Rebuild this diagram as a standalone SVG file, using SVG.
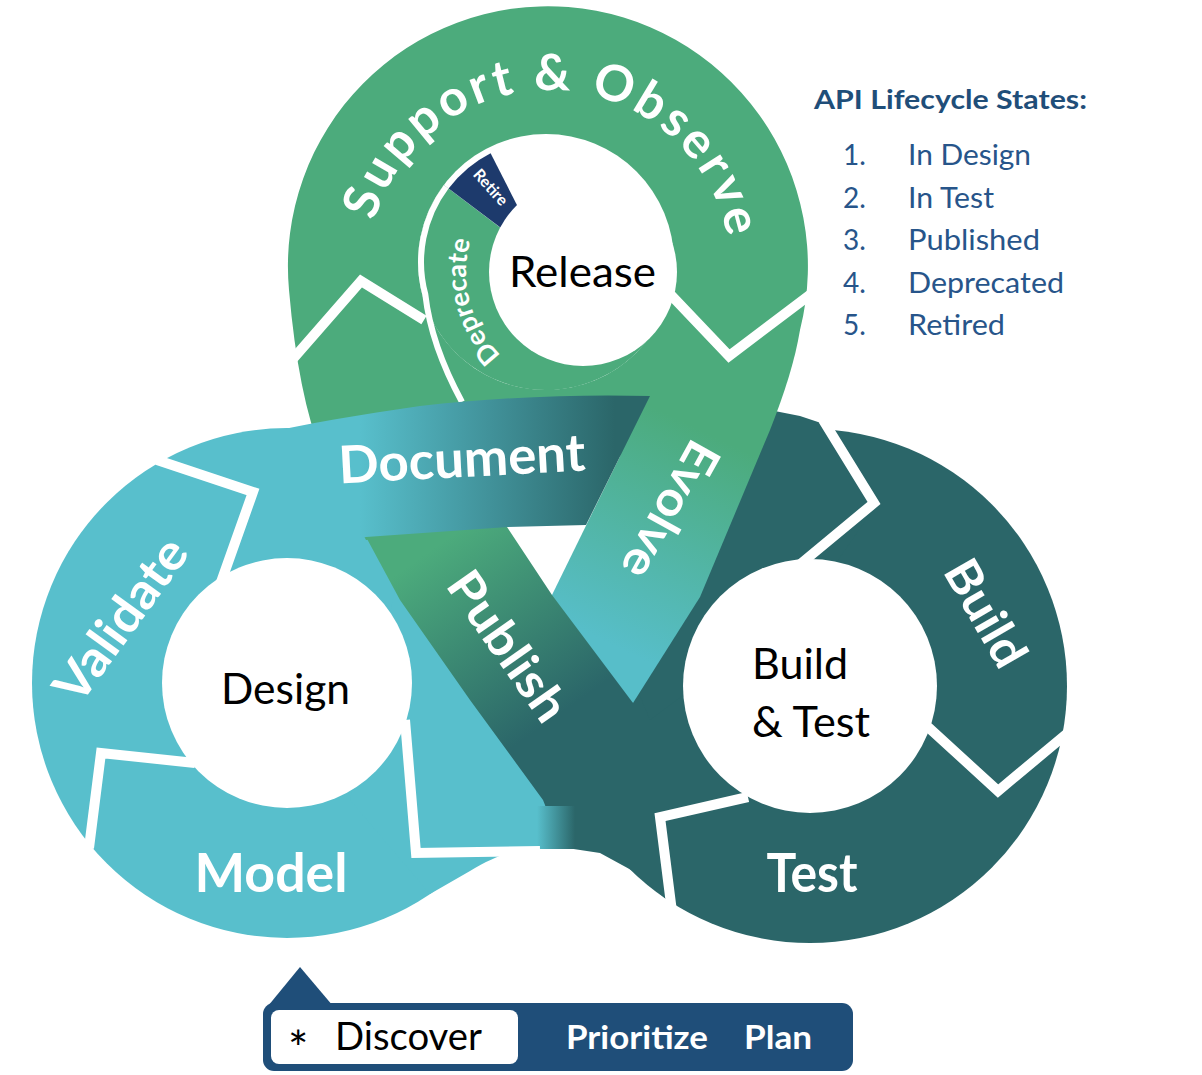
<svg xmlns="http://www.w3.org/2000/svg" width="1202" height="1075" viewBox="0 0 1202 1075">
<defs>
  <linearGradient id="gDoc" gradientUnits="userSpaceOnUse" x1="360" y1="0" x2="615" y2="0">
    <stop offset="0" stop-color="#58BFCC"/><stop offset="1" stop-color="#2B6669"/>
  </linearGradient>
  <linearGradient id="gPub" gradientUnits="userSpaceOnUse" x1="410" y1="565" x2="530" y2="735">
    <stop offset="0" stop-color="#4CAB7C"/><stop offset="1" stop-color="#2B6669"/>
  </linearGradient>
  <linearGradient id="gEvo" gradientUnits="userSpaceOnUse" x1="722" y1="440" x2="622" y2="650">
    <stop offset="0" stop-color="#4CAB7C"/><stop offset="1" stop-color="#57BEC9"/>
  </linearGradient>
  <linearGradient id="gFade" gradientUnits="userSpaceOnUse" x1="537" y1="0" x2="575" y2="0">
    <stop offset="0" stop-color="#58BFCC"/><stop offset="1" stop-color="#2B6669"/>
  </linearGradient>
  <path id="arcSO" d="M 367,272 A 182 182 0 0 1 731,272"/>
  <path id="arcDep" d="M 524.5,373.3 A 117 117 0 0 1 493.4,196.8"/>
</defs>
<style>
  .sep{fill:none;stroke:#fff;stroke-width:10;stroke-linejoin:miter;stroke-linecap:butt}
  .lbl{font-family:Lato,'Open Sans',sans-serif;font-weight:700;fill:#fff}
  .blk{font-family:Lato,'Open Sans',sans-serif;font-weight:400;fill:#000}
  .leg{font-family:Lato,'Open Sans',sans-serif;fill:#1F4E79}
  .item{font-family:Lato,'Open Sans',sans-serif;fill:#27558A;font-size:28px}
  .hole{fill:#fff}
</style>
<rect width="1202" height="1075" fill="#fff"/>

<!-- Build & Test ring base -->
<g id="ring-build">
  <circle cx="810" cy="686" r="257" fill="#2B6669"/>
  <path d="M 650,397 L 700,399 L 760,408 L 800,416 L 830,426 L 880,500 L 810,600 L 650,720 L 600,600 Z" fill="#2B6669"/>
</g>

<!-- Design ring base -->
<g id="ring-design">
  <circle cx="287" cy="683" r="255" fill="#58BFCC"/>
  <path d="M 395,590 L 470,700 L 545,800 L 560,849 L 533,848 C 515,849 495,856 470,871 L 430,894 L 350,800 Z" fill="#58BFCC"/>
</g>

<!-- Release ring -->
<g id="ring-release">
  <path d="M 366,540 L 322,455 Q 298,395 289,290 A 260 260 0 1 1 800,330 L 700,400 L 600,470 L 510,520 Z" fill="#4CAB7C"/>
  <circle cx="546" cy="262" r="128" class="hole"/>
  <path d="M 546,262 L 672.8,244.2 A 128 128 0 1 1 443.8,185 Z" fill="#4CAB7C"/>
  <path d="M 546,262 L 448.6,188.6 A 122 122 0 0 1 490.6,153.3 Z" fill="#1D3A6C"/>
  <path d="M 446.2,186.8 A 125 125 0 0 0 425.3,294.4 Q 431,345 462,402" fill="none" stroke="#fff" stroke-width="6"/>
</g>

<!-- connecting bands -->
<g id="connectors">
  <path id="band-evolve" d="M 682,330 L 800,330 C 795,360 785,392 770,430 L 700,597 L 633,703 L 525,650 Z" fill="url(#gEvo)"/>
  <path id="band-publish" d="M 355,512 L 515,512 L 507,527 L 552,595 L 633,703 L 690,775 L 700,850 L 667,900 L 633,871 L 600,853 L 567,848 L 555,830 L 543,800 L 470,700 L 400,600 L 366,537 Z" fill="url(#gPub)"/>
  <rect x="537" y="806" width="38" height="43" fill="url(#gFade)"/>
  <path id="band-document" d="M 160,461 C 220,440 320,420 420,406 C 500,397 580,394 650,396 L 586,525 L 508,527 L 366,537 L 330,545 L 253,492 Z" fill="url(#gDoc)"/>
</g>

<!-- segment separators -->
<g id="separators">
  <polyline class="sep" points="157,460 253,492 220,585"/>
  <polyline class="sep" points="89,848 101,753 195,763"/>
  <polyline class="sep" points="405,720 416,853 540,851"/>
  <polyline class="sep" points="823,420 874,503 798,566"/>
  <polyline class="sep" points="1070,731 998,791 928,727"/>
  <polyline class="sep" points="748,797 660,817 672,912"/>
  <polyline class="sep" points="292,360 361,281 424,320"/>
  <polyline class="sep" points="670,294 729,356 815,291"/>
</g>

<!-- centre discs -->
<g id="centres">
  <circle cx="287" cy="683" r="125" fill="#fff"/>
  <circle cx="810" cy="686" r="127" fill="#fff"/>
  <circle cx="583" cy="272" r="94" fill="#fff"/>
</g>

<!-- labels -->
<g id="labels">
  <text class="lbl" font-size="50"><textPath href="#arcSO" startOffset="294" text-anchor="middle" textLength="485" lengthAdjust="spacing">Support &amp; Observe</textPath></text>
  <text class="lbl" font-size="27"><textPath href="#arcDep" startOffset="92" text-anchor="middle">Deprecate</textPath></text>
  <text class="lbl" font-size="16" text-anchor="middle" y="6" transform="translate(491,187) rotate(48)">Retire</text>
  <text class="blk" font-size="42" x="509" y="287" textLength="147" lengthAdjust="spacingAndGlyphs">Release</text>
  <text class="blk" font-size="42" x="221" y="704" textLength="129" lengthAdjust="spacingAndGlyphs">Design</text>
  <text class="blk" font-size="42" x="752" y="679" textLength="96" lengthAdjust="spacingAndGlyphs">Build</text>
  <text class="blk" font-size="42" x="752" y="737" textLength="118" lengthAdjust="spacingAndGlyphs">&amp; Test</text>

  <text class="lbl" font-size="52" text-anchor="middle" x="462" y="477" textLength="247" lengthAdjust="spacingAndGlyphs" transform="rotate(-3 462 462)">Document</text>
  <text class="lbl" font-size="53" text-anchor="middle" x="271" y="892" textLength="153" lengthAdjust="spacingAndGlyphs">Model</text>
  <text class="lbl" font-size="53" text-anchor="middle" x="812" y="892" textLength="91" lengthAdjust="spacingAndGlyphs">Test</text>
  <text class="lbl" font-size="50" text-anchor="middle" y="17" textLength="190" lengthAdjust="spacingAndGlyphs" transform="translate(121,620) rotate(-54)">Validate</text>
  <text class="lbl" font-size="48" text-anchor="middle" y="17" textLength="172" lengthAdjust="spacingAndGlyphs" transform="translate(508,646) rotate(55)">Publish</text>
  <text class="lbl" font-size="48" text-anchor="middle" y="17" textLength="150" lengthAdjust="spacingAndGlyphs" transform="translate(671,510) rotate(119)">Evolve</text>
  <text class="lbl" font-size="48" text-anchor="middle" y="17" textLength="116" lengthAdjust="spacingAndGlyphs" transform="translate(986,613) rotate(60)">Build</text>
</g>

<!-- legend -->
<g id="legend">
  <text class="leg" font-size="26" font-weight="700" x="814" y="109" textLength="273" lengthAdjust="spacingAndGlyphs">API Lifecycle States:</text>
  <text class="item" x="843" y="165">1.</text><text class="item" x="908" y="165" textLength="123" lengthAdjust="spacingAndGlyphs">In Design</text>
  <text class="item" x="843" y="208">2.</text><text class="item" x="908" y="208" textLength="86" lengthAdjust="spacingAndGlyphs">In Test</text>
  <text class="item" x="843" y="250">3.</text><text class="item" x="908" y="250" textLength="132" lengthAdjust="spacingAndGlyphs">Published</text>
  <text class="item" x="843" y="293">4.</text><text class="item" x="908" y="293" textLength="156" lengthAdjust="spacingAndGlyphs">Deprecated</text>
  <text class="item" x="843" y="335">5.</text><text class="item" x="908" y="335" textLength="97" lengthAdjust="spacingAndGlyphs">Retired</text>
</g>

<!-- planning bar -->
<g id="plan-bar">
  <polygon points="268,1006 300,967 333,1006" fill="#1F4E79"/>
  <rect x="263" y="1003" width="590" height="68" rx="11" fill="#1F4E79"/>
  <rect x="271" y="1010" width="247" height="54" rx="8" fill="#fff"/>
  <text class="blk" font-size="38" y="1050"><tspan x="288" dy="16" font-size="48">*</tspan><tspan x="335" dy="-16" textLength="147" lengthAdjust="spacingAndGlyphs">Discover</tspan></text>
  <text class="lbl" font-size="33" x="566" y="1049" textLength="142" lengthAdjust="spacingAndGlyphs">Prioritize</text>
  <text class="lbl" font-size="33" x="744" y="1049" textLength="68" lengthAdjust="spacingAndGlyphs">Plan</text>
</g>
</svg>
